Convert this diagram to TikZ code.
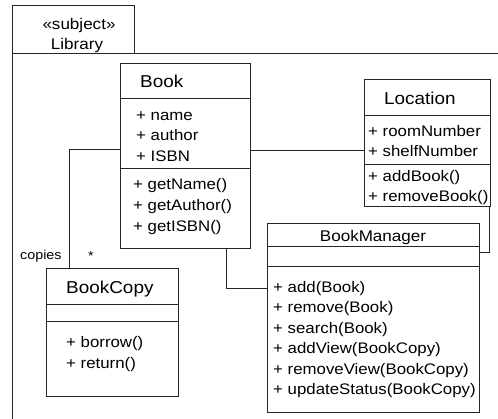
\documentclass[tikz,border=0pt]{standalone}
\usepackage{fontspec}
\setmainfont{Liberation Sans}[FakeStretch=1.1]
\begin{document}
\begin{tikzpicture}[x=1pt,y=-1pt,
  line/.style={draw=black!85,line width=0.9pt},
  classbox/.style={line,rectangle,inner sep=0pt,anchor=north west},
  member/.style={anchor=base west,inner sep=0pt,font=\fontsize{15.3}{18}\selectfont},
  ctitle/.style={anchor=base west,inner sep=0pt,font=\fontsize{17.2}{20}\selectfont},
  assoclabel/.style={anchor=base west,inner sep=0pt,font=\fontsize{13}{15}\selectfont}]
\useasboundingbox (0,0) rectangle (498,419);
% package frame
\draw[line] (12,419) -- (12,5) -- (134,5) -- (134,53);
\draw[line] (12,53) -- (498,53);
\node[anchor=base,inner sep=0pt,font=\fontsize{15.5}{18}\selectfont] (stereo) at (79,29.5) {«subject»};
\node[anchor=base,inner sep=0pt,font=\fontsize{15.5}{18}\selectfont] (pkgname) at (77,49.5) {Library};
% Book
\node[classbox,minimum width=130pt,minimum height=185pt] (book) at (120,63) {};
\draw[line] (book.west |- 0,98) -- (book.east |- 0,98);
\draw[line] (book.west |- 0,168) -- (book.east |- 0,168);
\node[ctitle] (booktitle) at (140,87.2) {Book};
\node[member] (b1) at (136,120.4) {+ name};
\node[member] (b2) at (136,140.4) {+ author};
\node[member] (b3) at (136,161.4) {+ ISBN};
\node[member] (b4) at (133,190) {+ getName()};
\node[member] (b5) at (133,211) {+ getAuthor()};
\node[member] (b6) at (133,232) {+ getISBN()};
% Location
\node[classbox,minimum width=126pt,minimum height=127pt] (location) at (364,79) {};
\draw[line] (location.west |- 0,115) -- (location.east |- 0,115);
\draw[line] (location.west |- 0,164) -- (location.east |- 0,164);
\node[ctitle] (loctitle) at (384,104.2) {Location};
\node[member] (l1) at (368,136.4) {+ roomNumber};
\node[member] (l2) at (368,156.4) {+ shelfNumber};
\node[member] (l3) at (368,181.4) {+ addBook()};
\node[member] (l4) at (368,201.4) {+ removeBook()};
% BookCopy
\node[classbox,minimum width=132pt,minimum height=128pt] (bookcopy) at (46,268) {};
\draw[line] (bookcopy.west |- 0,304) -- (bookcopy.east |- 0,304);
\draw[line] (bookcopy.west |- 0,321) -- (bookcopy.east |- 0,321);
\node[ctitle] (bctitle) at (66,293.2) {BookCopy};
\node[member] (c1) at (66,347.4) {+ borrow()};
\node[member] (c2) at (66,368.4) {+ return()};
% BookManager
\node[classbox,minimum width=212pt,minimum height=189pt] (bm) at (267,223) {};
\draw[line] (bm.west |- 0,246) -- (bm.east |- 0,246);
\draw[line] (bm.west |- 0,266) -- (bm.east |- 0,266);
\node[anchor=base,inner sep=0pt,font=\fontsize{15.5}{18}\selectfont] (bmtitle) at (373,241.5) {BookManager};
\node[member] (m1) at (273,292.4) {+ add(Book)};
\node[member] (m2) at (273,312.9) {+ remove(Book)};
\node[member] (m3) at (273,333.4) {+ search(Book)};
\node[member] (m4) at (273,353.9) {+ addView(BookCopy)};
\node[member] (m5) at (273,374.4) {+ removeView(BookCopy)};
\node[member] (m6) at (273,394.9) {+ updateStatus(BookCopy)};
% connectors
\draw[line] (book.west |- 0,149) -| (69,0 |- bookcopy.north);
\draw[line] (book.east |- 0,150) -- (location.west |- 0,150);
\draw[line] (226,0 |- book.south) |- (bm.west |- 0,288);
\draw[line] (489,0 |- location.south) |- (bm.east |- 0,252);
\node[assoclabel] (copies) at (20,259.5) {copies};
\node[assoclabel] (mult) at (88,261) {*};
\end{tikzpicture}
\end{document}
